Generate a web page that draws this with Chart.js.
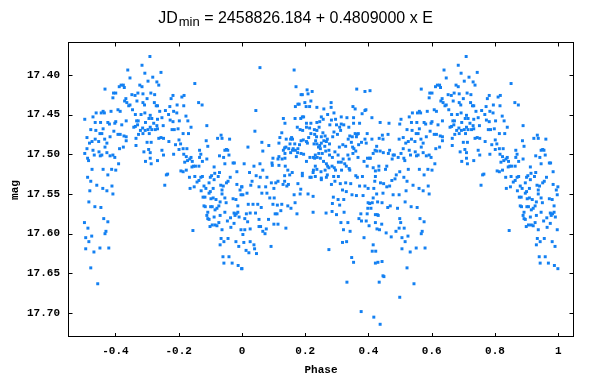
<!DOCTYPE html>
<html>
<head>
<meta charset="utf-8">
<script src="https://cdn.jsdelivr.net/npm/chart.js@4.4.1/dist/chart.umd.min.js"></script>
<style>
  html, body { margin: 0; padding: 0; background: #fff; }
  #wrap { width: 602px; height: 385px; }
</style>
</head>
<body>
<div id="wrap"><canvas id="lc" width="602" height="385"></canvas></div>
<script>
const phaseTicks = [-0.4, -0.2, 0, 0.2, 0.4, 0.6, 0.8, 1];
const magTicks = [17.40, 17.45, 17.50, 17.55, 17.60, 17.65, 17.70];

// [phase, mag], phase 0..1 (the -0.5..0 part is the 0.5..1 part repeated)
const firstHalfBright = [
  [0.057,17.391],[0.165,17.394],[0.171,17.415],[0.187,17.425],[0.191,17.425],[0.206,17.419],[0.209,17.424],[0.222,17.421],
  [0.363,17.418],[0.389,17.421],[0.405,17.420],[0.044,17.445],[0.041,17.471],[0.177,17.437],[0.181,17.437],[0.169,17.440],
  [0.199,17.435],[0.218,17.433],[0.203,17.440],[0.214,17.440],[0.237,17.441],[0.259,17.443],[0.282,17.435],[0.282,17.441],
  [0.351,17.440],[0.358,17.443],[0.389,17.445],[0.392,17.444],[0.380,17.449],[0.411,17.454],[0.465,17.461],[0.437,17.460],
  [0.131,17.455],[0.136,17.461],[0.191,17.453],[0.195,17.453],[0.186,17.455],[0.168,17.455],[0.175,17.466],[0.184,17.469],
  [0.192,17.470],[0.204,17.461],[0.204,17.466],[0.214,17.467],[0.218,17.461],[0.237,17.460],[0.246,17.459],[0.229,17.469],
  [0.237,17.470],[0.244,17.466],[0.251,17.453],[0.257,17.456],[0.271,17.450],[0.278,17.463],[0.283,17.457],[0.291,17.448],
  [0.296,17.456],[0.299,17.463],[0.309,17.466],[0.314,17.453],[0.314,17.462],[0.322,17.463],[0.332,17.454],[0.338,17.466],
  [0.353,17.454],[0.353,17.461],[0.372,17.461],[0.358,17.474],[0.364,17.475],[0.396,17.474],[0.411,17.481],[0.434,17.480],
  [0.444,17.476],[0.462,17.475],[0.446,17.481],[0.421,17.495],[0.426,17.496],[0.415,17.499],[0.404,17.505],[0.397,17.505],
  [0.386,17.509],[0.367,17.504],[0.350,17.491],[0.354,17.493],[0.360,17.496],[0.351,17.499],[0.335,17.501],[0.339,17.506],
  [0.328,17.490],[0.319,17.488],[0.308,17.491],[0.304,17.501],[0.294,17.497],[0.286,17.504],[0.277,17.501],[0.275,17.495],
  [0.262,17.490],[0.248,17.493],[0.237,17.487],[0.233,17.483],[0.228,17.487],[0.242,17.491],[0.246,17.489],[0.251,17.486],
  [0.259,17.483],[0.267,17.484],[0.277,17.487],[0.265,17.496],[0.254,17.499],[0.243,17.499],[0.232,17.501],[0.230,17.505],
  [0.238,17.504],[0.248,17.505],[0.258,17.509],[0.267,17.512],[0.271,17.515],[0.275,17.517],[0.285,17.515],[0.292,17.517],
  [0.296,17.520],[0.305,17.510],[0.314,17.510],[0.320,17.506],[0.325,17.512],[0.330,17.515],[0.339,17.518],[0.341,17.520],
  [0.315,17.520],[0.305,17.528],[0.290,17.528],[0.270,17.526],[0.263,17.520],[0.250,17.522],[0.237,17.519],[0.232,17.515],
  [0.226,17.520],[0.226,17.504],[0.215,17.504],[0.204,17.509],[0.195,17.500],[0.187,17.499],[0.176,17.498],[0.172,17.503],
  [0.169,17.495],[0.160,17.495],[0.154,17.498],[0.148,17.493],[0.154,17.481],[0.157,17.479],[0.160,17.481],[0.140,17.481],
  [0.135,17.492],[0.131,17.495],[0.136,17.499],[0.117,17.503],[0.114,17.506],[0.127,17.506],[0.126,17.473],[0.120,17.479],
  [0.117,17.486],[0.098,17.505],[0.095,17.511],[0.096,17.514],[0.117,17.514],[0.137,17.515],[0.145,17.520],[0.151,17.526],
  [0.159,17.523],[0.135,17.527],[0.079,17.529],[0.058,17.529],[0.045,17.527],[0.038,17.515],[0.024,17.523],[0.007,17.512],
  [0.019,17.491],[0.063,17.485],[0.066,17.496],[0.085,17.489],[0.066,17.520],[0.057,17.512],[0.191,17.527],[0.191,17.524],
  [0.215,17.529],[0.219,17.529],[0.225,17.523],[0.232,17.528],[0.251,17.530],[0.267,17.529],[0.360,17.527],[0.365,17.529],
  [0.381,17.528],[0.422,17.528],[0.474,17.533],[0.484,17.531],[0.488,17.526],[0.422,17.521],[0.433,17.520],[0.454,17.519],
  [0.458,17.515],[0.475,17.506],[0.478,17.501],[0.482,17.501],[0.494,17.504],[0.497,17.481],[0.499,17.462],[0.467,17.495],
  [0.463,17.499],[0.447,17.498],[0.437,17.496],[0.426,17.490],[0.406,17.505],[0.396,17.515],[0.415,17.517],[0.433,17.515],
  [0.393,17.486],[0.389,17.481],[0.369,17.488],[0.378,17.485],[0.362,17.478],[0.368,17.474],[0.349,17.478],[0.346,17.485],
  [0.336,17.481],[0.341,17.477],[0.312,17.470],[0.302,17.475],[0.291,17.472],[0.287,17.478],[0.270,17.481],[0.263,17.477],
  [0.256,17.473],[0.251,17.478],[0.236,17.478],[0.230,17.475],[0.218,17.474],[0.211,17.479],[0.204,17.484],[0.207,17.486],
  [0.194,17.482],[0.187,17.483],[0.182,17.488],[0.177,17.493],[0.167,17.487],[0.162,17.493],[0.152,17.487],[0.139,17.491],
  [0.136,17.505]
];

const firstHalfFaint = [
  [0.000,17.541],[0.003,17.551],[0.016,17.549],[0.032,17.534],[0.028,17.539],[0.054,17.541],[0.063,17.549],[0.075,17.541],
  [0.079,17.549],[0.093,17.536],[0.101,17.543],[0.107,17.536],[0.114,17.534],[0.130,17.538],[0.135,17.534],[0.142,17.540],
  [0.147,17.538],[0.177,17.537],[0.186,17.544],[0.165,17.551],[0.184,17.550],[0.209,17.550],[0.225,17.553],[0.088,17.555],
  [0.102,17.555],[0.098,17.563],[0.112,17.564],[0.126,17.563],[0.145,17.565],[0.155,17.568],[0.168,17.561],[0.105,17.575],
  [0.111,17.575],[0.123,17.571],[0.174,17.575],[0.225,17.573],[0.084,17.582],[0.054,17.582],[0.026,17.574],[0.043,17.574],
  [0.014,17.575],[0.035,17.563],[0.050,17.563],[0.061,17.567],[0.020,17.563],[0.009,17.581],[0.018,17.585],[0.009,17.595],
  [0.026,17.594],[0.054,17.591],[0.059,17.591],[0.077,17.594],[0.066,17.597],[0.073,17.600],[0.101,17.588],[0.114,17.588],
  [0.139,17.593],[0.003,17.601],[0.006,17.611],[0.026,17.610],[0.038,17.614],[0.040,17.619],[0.013,17.621],[0.022,17.624],
  [0.046,17.625],[0.092,17.616],[0.000,17.644],[0.275,17.620],[0.251,17.532],[0.283,17.538],[0.294,17.534],[0.311,17.537],
  [0.328,17.536],[0.344,17.537],[0.318,17.545],[0.330,17.547],[0.289,17.554],[0.304,17.557],[0.322,17.557],[0.286,17.562],
  [0.309,17.564],[0.323,17.573],[0.285,17.572],[0.299,17.576],[0.266,17.574],[0.348,17.551],[0.362,17.552],[0.372,17.540],
  [0.389,17.540],[0.399,17.543],[0.383,17.552],[0.420,17.534],[0.417,17.543],[0.426,17.550],[0.438,17.536],[0.448,17.537],
  [0.458,17.541],[0.467,17.540],[0.478,17.551],[0.497,17.551],[0.446,17.549],[0.415,17.555],[0.399,17.561],[0.404,17.562],
  [0.412,17.561],[0.429,17.560],[0.443,17.561],[0.461,17.567],[0.469,17.565],[0.492,17.568],[0.398,17.568],[0.408,17.568],
  [0.428,17.576],[0.431,17.577],[0.422,17.576],[0.396,17.575],[0.376,17.575],[0.370,17.581],[0.378,17.584],[0.393,17.584],
  [0.402,17.590],[0.422,17.586],[0.427,17.594],[0.435,17.595],[0.442,17.588],[0.456,17.599],[0.472,17.604],[0.487,17.597],
  [0.499,17.581],[0.497,17.593],[0.313,17.586],[0.335,17.586],[0.321,17.595],[0.342,17.597],[0.386,17.605],[0.318,17.611],
  [0.331,17.610],[0.415,17.614],[0.412,17.622],[0.423,17.622],[0.347,17.630],[0.353,17.636],[0.422,17.637],[0.430,17.636],
  [0.443,17.635],[0.446,17.653],[0.449,17.654],[0.434,17.661],[0.332,17.661],[0.499,17.680],[0.377,17.698],[0.417,17.705],
  [0.437,17.714]
];

const secondHalfBright = [
  [0.709,17.377],[0.684,17.388],[0.639,17.394],[0.693,17.398],[0.744,17.397],[0.646,17.404],[0.703,17.408],[0.718,17.403],
  [0.731,17.409],[0.737,17.413],[0.851,17.411],[0.677,17.413],[0.684,17.415],[0.612,17.415],[0.618,17.413],[0.625,17.413],
  [0.628,17.416],[0.567,17.418],[0.594,17.423],[0.601,17.423],[0.652,17.425],[0.671,17.423],[0.687,17.424],[0.712,17.423],
  [0.662,17.426],[0.592,17.429],[0.633,17.430],[0.700,17.430],[0.724,17.425],[0.782,17.426],[0.810,17.428],[0.817,17.426],
  [0.776,17.430],[0.629,17.433],[0.636,17.435],[0.646,17.438],[0.642,17.439],[0.668,17.433],[0.687,17.435],[0.692,17.438],
  [0.723,17.435],[0.729,17.439],[0.733,17.439],[0.863,17.435],[0.874,17.438],[0.795,17.438],[0.816,17.439],[0.772,17.440],
  [0.654,17.444],[0.608,17.444],[0.615,17.446],[0.586,17.446],[0.561,17.446],[0.555,17.448],[0.565,17.448],[0.539,17.448],
  [0.529,17.453],[0.503,17.456],[0.663,17.450],[0.681,17.450],[0.693,17.448],[0.710,17.451],[0.740,17.446],[0.758,17.445],
  [0.784,17.446],[0.768,17.450],[0.794,17.448],[0.823,17.452],[0.706,17.455],[0.715,17.455],[0.747,17.454],[0.733,17.456],
  [0.773,17.457],[0.802,17.458],[0.782,17.459],[0.829,17.458],[0.667,17.458],[0.672,17.458],[0.695,17.460],[0.634,17.458],
  [0.601,17.459],[0.598,17.461],[0.576,17.460],[0.553,17.460],[0.536,17.460],[0.581,17.462],[0.620,17.463],[0.663,17.465],
  [0.670,17.463],[0.721,17.461],[0.731,17.464],[0.751,17.464],[0.710,17.466],[0.686,17.467],[0.658,17.466],[0.561,17.468],
  [0.522,17.469],[0.538,17.470],[0.551,17.474],[0.557,17.474],[0.595,17.471],[0.608,17.475],[0.615,17.475],[0.627,17.477],
  [0.634,17.478],[0.679,17.470],[0.694,17.470],[0.687,17.474],[0.703,17.469],[0.715,17.469],[0.726,17.469],[0.707,17.474],
  [0.733,17.468],[0.673,17.475],[0.779,17.469],[0.786,17.469],[0.798,17.468],[0.814,17.474],[0.839,17.466],[0.831,17.474],
  [0.889,17.464],[0.510,17.479],[0.526,17.484],[0.536,17.481],[0.566,17.481],[0.547,17.484],[0.518,17.486],[0.510,17.493],
  [0.529,17.495],[0.548,17.497],[0.533,17.501],[0.512,17.505],[0.515,17.508],[0.503,17.499],[0.552,17.502],[0.557,17.501],
  [0.567,17.491],[0.573,17.486],[0.583,17.478],[0.634,17.483],[0.665,17.480],[0.665,17.489],[0.625,17.491],[0.613,17.493],
  [0.592,17.501],[0.598,17.504],[0.583,17.502],[0.573,17.498],[0.690,17.497],[0.705,17.494],[0.700,17.485],[0.710,17.498],
  [0.713,17.485],[0.737,17.480],[0.744,17.479],[0.752,17.480],[0.769,17.484],[0.747,17.495],[0.752,17.501],[0.733,17.508],
  [0.713,17.512],[0.695,17.509],[0.710,17.505],[0.784,17.500],[0.790,17.488],[0.801,17.482],[0.806,17.487],[0.814,17.493],
  [0.801,17.494],[0.816,17.500],[0.824,17.503],[0.826,17.493],[0.839,17.504],[0.835,17.506],[0.828,17.508],[0.843,17.509],
  [0.866,17.495],[0.870,17.500],[0.887,17.483],[0.892,17.490],[0.866,17.504],[0.875,17.509],[0.847,17.515],[0.853,17.515],
  [0.842,17.516],[0.864,17.515],[0.889,17.506],[0.819,17.510],[0.814,17.522],[0.807,17.521],[0.824,17.520],[0.834,17.529],
  [0.851,17.528],[0.870,17.529],[0.875,17.528],[0.904,17.527],[0.914,17.524],[0.900,17.529],[0.912,17.516],[0.923,17.480],
  [0.934,17.476],[0.937,17.480],[0.961,17.481],[0.951,17.494],[0.955,17.495],[0.946,17.495],[0.959,17.501],[0.929,17.502],
  [0.942,17.504],[0.946,17.512],[0.972,17.511],[0.976,17.511],[0.984,17.522],[0.963,17.529],[0.929,17.523],[0.925,17.528],
  [0.761,17.526],[0.765,17.525],[0.512,17.529],[0.499,17.522],[0.526,17.519],[0.561,17.519],[0.588,17.519],[0.601,17.520],
  [0.610,17.512],[0.576,17.526]
];

const secondHalfFaint = [
  [0.522,17.534],[0.541,17.539],[0.560,17.543],[0.573,17.546],[0.589,17.540],[0.592,17.550],[0.519,17.546],[0.516,17.560],
  [0.535,17.566],[0.554,17.567],[0.502,17.586],[0.513,17.593],[0.563,17.581],[0.576,17.585],[0.570,17.597],[0.567,17.600],
  [0.525,17.603],[0.506,17.605],[0.516,17.610],[0.506,17.619],[0.532,17.623],[0.551,17.618],[0.579,17.618],[0.522,17.643],
  [0.544,17.663],[0.756,17.539],[0.836,17.543],[0.849,17.541],[0.858,17.535],[0.864,17.533],[0.871,17.546],[0.880,17.540],
  [0.886,17.543],[0.896,17.536],[0.912,17.532],[0.933,17.539],[0.937,17.545],[0.941,17.540],[0.951,17.536],[0.956,17.534],
  [0.984,17.538],[0.999,17.541],[0.994,17.545],[0.997,17.551],[0.909,17.543],[0.900,17.547],[0.896,17.549],[0.877,17.554],
  [0.883,17.554],[0.902,17.556],[0.909,17.555],[0.918,17.557],[0.931,17.560],[0.937,17.550],[0.946,17.555],[0.950,17.561],
  [0.972,17.556],[0.981,17.557],[0.987,17.565],[0.880,17.565],[0.884,17.566],[0.901,17.566],[0.906,17.566],[0.915,17.570],
  [0.921,17.568],[0.927,17.565],[0.892,17.573],[0.946,17.573],[0.975,17.574],[0.982,17.575],[0.978,17.577],[0.987,17.573],
  [0.991,17.579],[0.931,17.577],[0.912,17.579],[0.889,17.577],[0.892,17.581],[0.896,17.582],[0.964,17.580],[0.954,17.584],
  [0.906,17.589],[0.899,17.591],[0.915,17.589],[0.921,17.590],[0.927,17.586],[0.975,17.587],[0.965,17.592],[0.997,17.595],
  [0.937,17.595],[0.845,17.596],[0.934,17.606],[0.943,17.610],[0.931,17.614],[0.956,17.606],[0.981,17.610],[0.990,17.616],
  [0.940,17.629],[0.959,17.629],[0.943,17.637],[0.969,17.637],[0.988,17.640],[0.999,17.644]
];

// fold: every phase >= 0.5 is shown again one cycle earlier
const points = [];
[firstHalfBright, firstHalfFaint, secondHalfBright, secondHalfFaint].forEach(list => {
  list.forEach(p => {
    points.push({ x: p[0], y: p[1] });
    if (p[0] >= 0.5) points.push({ x: p[0] - 1, y: p[1] });
  });
});

const axisFont = { family: '"Liberation Mono", "DejaVu Sans Mono", monospace', size: 11, weight: 'bold' };

// gnuplot-like box with inward ticks, plus the title with its subscript
const framePlugin = {
  id: 'frame',
  afterDraw(chart) {
    const { ctx, chartArea: a, scales: { x, y } } = chart;
    ctx.save();
    ctx.strokeStyle = '#000';
    ctx.lineWidth = 1;
    ctx.strokeRect(a.left + 0.5, a.top - 0.5, a.right - a.left - 1, a.bottom - a.top);
    ctx.beginPath();
    phaseTicks.forEach(v => {
      const px = Math.round(x.getPixelForValue(v)) + 0.5;
      ctx.moveTo(px, a.bottom); ctx.lineTo(px, a.bottom - 4);
      ctx.moveTo(px, a.top - 0.5); ctx.lineTo(px, a.top + 3.5);
    });
    magTicks.forEach(v => {
      const py = Math.round(y.getPixelForValue(v)) + 0.5;
      ctx.moveTo(a.left + 0.5, py); ctx.lineTo(a.left + 4.5, py);
      ctx.moveTo(a.right - 0.5, py); ctx.lineTo(a.right - 4.5, py);
    });
    ctx.stroke();

    const big = '16px "Liberation Sans", Arial, sans-serif';
    const small = '13px "Liberation Sans", Arial, sans-serif';
    const head = 'JD', sub = 'min', tail = ' = 2458826.184 + 0.4809000 x E';
    ctx.font = big;
    const w1 = ctx.measureText(head).width, w3 = ctx.measureText(tail).width;
    ctx.font = small;
    const w2 = ctx.measureText(sub).width;
    let tx = 295 - (w1 + w2 + w3) / 2;
    ctx.fillStyle = '#000';
    ctx.textBaseline = 'alphabetic';
    ctx.textAlign = 'left';
    ctx.font = big;
    ctx.fillText(head, tx, 23);
    tx += w1;
    ctx.font = small;
    ctx.fillText(sub, tx + 1, 26);
    tx += w2 + 1;
    ctx.font = big;
    ctx.fillText(tail, tx, 23);
    ctx.restore();
  }
};

new Chart(document.getElementById('lc'), {
  type: 'scatter',
  data: {
    datasets: [{
      data: points,
      pointStyle: 'rect',
      pointRadius: 2.1,
      pointBorderWidth: 0,
      borderWidth: 0,
      backgroundColor: '#1380f2'
    }]
  },
  options: {
    responsive: false,
    animation: false,
    devicePixelRatio: 1,
    events: [],
    layout: { padding: { top: 43, right: 28, left: 0, bottom: 0 } },
    plugins: { legend: { display: false }, tooltip: { enabled: false } },
    scales: {
      x: {
        type: 'linear',
        min: -0.55,
        max: 1.05,
        grid: { display: false, drawTicks: false },
        border: { display: false },
        afterBuildTicks: s => { s.ticks = phaseTicks.map(v => ({ value: v })); },
        afterFit: s => { s.height = 48; },
        ticks: { padding: 8, color: '#000', font: axisFont, maxRotation: 0, autoSkip: false,
                 callback: v => String(Math.round(v * 10) / 10) },
        title: { display: true, text: 'Phase', color: '#000', font: axisFont, padding: { top: 0, bottom: 8 } }
      },
      y: {
        type: 'linear',
        reverse: true,
        min: 17.36,
        max: 17.73,
        grid: { display: false, drawTicks: false },
        border: { display: false },
        afterBuildTicks: s => { s.ticks = magTicks.map(v => ({ value: v })); },
        afterFit: s => { s.width = 68; },
        ticks: { padding: 8, color: '#000', font: axisFont, autoSkip: false,
                 callback: v => v.toFixed(2) },
        title: { display: true, text: 'mag', color: '#000', font: axisFont, padding: { top: 9, bottom: 0 } }
      }
    }
  },
  plugins: [framePlugin]
});
</script>
</body>
</html>
